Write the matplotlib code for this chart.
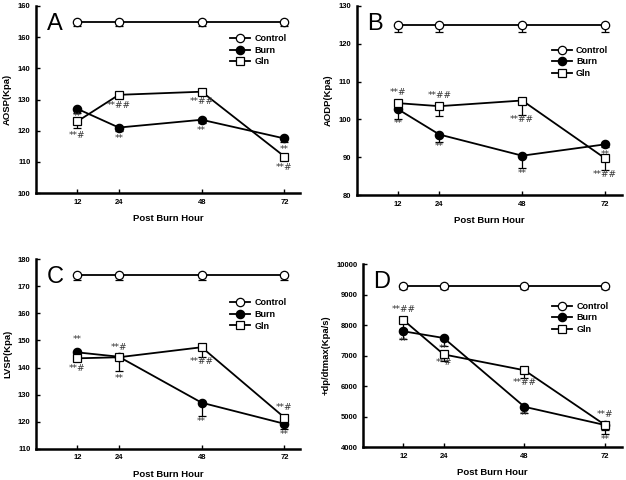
import matplotlib
matplotlib.use("Agg")
import matplotlib.pyplot as plt
from matplotlib.lines import Line2D

plt.rcParams['font.family'] = ['Liberation Sans', 'DejaVu Sans']

hours = [12, 24, 48, 72]
series_names = ["Control", "Burn", "Gln"]

# Panel A
a_control = [155, 155, 155, 155]
a_control_err = [1.3, 1.3, 1.3, 1.3]
a_burn = [127, 121, 123.5, 117.5]
a_burn_err = [1.2, 1.2, 1.2, 1.2]
a_gln = [123, 131.5, 132.5, 111.7]
a_gln_err = [2.0, 0.8, 0.8, 0.8]
a_yticks = [100, 110, 120, 130, 140, 150, 160]
a_yticklabels = ["100", "110", "120", "130", "140", "160", "160"]
a_notes = [(12, 124.4, "**"), (12, 118.6, "**#"), (24, 128.2, "**##"), (24, 117.6, "**"),
           (48, 129.2, "**##"), (48, 119.9, "**"), (72, 114.1, "**"), (72, 108.3, "**#")]

# Panel B
b_control = [125, 125, 125, 125]
b_control_err = [1.8, 1.8, 1.8, 1.8]
b_burn = [102.7, 96.0, 90.4, 93.4]
b_burn_err = [2.5, 2.0, 3.3, 0.8]
b_gln = [104.3, 103.5, 105.0, 89.7]
b_gln_err = [1.5, 2.7, 3.8, 3.0]
b_yticks = [80, 90, 100, 110, 120, 130]
b_notes = [(12, 107.1, "**#"), (12, 98.8, "**"), (24, 106.2, "**##"), (24, 92.8, "**"),
           (48, 100.0, "**##"), (48, 85.8, "**"), (72, 90.8, "**"), (72, 85.5, "**##")]

# Panel C
c_control = [174.3, 174.3, 174.3, 174.3]
c_control_err = [2.0, 2.0, 2.0, 2.0]
c_burn = [145.6, 144.0, 127.0, 119.2]
c_burn_err = [1.0, 1.0, 5.0, 1.8]
c_gln = [143.4, 143.8, 147.5, 121.5]
c_gln_err = [1.0, 5.0, 3.5, 1.5]
c_yticks = [110, 120, 130, 140, 150, 160, 170, 180]
c_notes = [(12, 150.2, "**"), (12, 139.7, "**#"), (24, 147.5, "**#"), (24, 136.0, "**"),
           (48, 142.2, "**##"), (48, 120.2, "**"), (72, 125.3, "**#"), (72, 115.4, "**")]

# Panel D
d_control = [9300, 9300, 9300, 9300]
d_control_err = [100, 100, 100, 100]
d_burn = [7800, 7580, 5320, 4720]
d_burn_err = [250, 250, 200, 150]
d_gln = [8170, 7040, 6520, 4720]
d_gln_err = [300, 200, 250, 300]
d_yticks = [4000, 5000, 6000, 7000, 8000, 9000, 10000]
d_notes = [(12, 8500, "**##"), (12, 7480, "**"), (24, 7240, "**"), (24, 6770, "**#"),
           (48, 6110, "**##"), (48, 5030, "**"), (72, 5070, "**#"), (72, 4260, "**")]

W, H = 626, 480
fig = plt.figure(figsize=(W / 100, H / 100), dpi=100)


def px_axes(left, top, right, bottom):
    return fig.add_axes([left / W, 1 - bottom / H, (right - left) / W, (bottom - top) / H])


panels = [
    dict(box=(36, 6, 300, 193), xmax=76.5, ylim=(100, 160), yticks=a_yticks, yticklabels=a_yticklabels,
         ylabel="AOSP(Kpa)", letter="A", data=(a_control, a_control_err, a_burn, a_burn_err, a_gln, a_gln_err),
         notes=a_notes, leg=(0.735, 0.85)),
    dict(box=(356.5, 6, 622, 195), xmax=76.9, ylim=(80, 130), yticks=b_yticks, yticklabels=None,
         ylabel="AODP(Kpa)", letter="B", data=(b_control, b_control_err, b_burn, b_burn_err, b_gln, b_gln_err),
         notes=b_notes, leg=(0.735, 0.79)),
    dict(box=(36, 259.3, 300, 448.7), xmax=76.5, ylim=(110, 180), yticks=c_yticks, yticklabels=None,
         ylabel="LVSP(Kpa)", letter="C", data=(c_control, c_control_err, c_burn, c_burn_err, c_gln, c_gln_err),
         notes=c_notes, leg=(0.735, 0.795)),
    dict(box=(363, 264.3, 622, 447), xmax=77.0, ylim=(4000, 10000), yticks=d_yticks, yticklabels=None,
         ylabel="+dp/dtmax(Kpa/s)", letter="D", data=(d_control, d_control_err, d_burn, d_burn_err, d_gln, d_gln_err),
         notes=d_notes, leg=(0.73, 0.795)),
]

styles = [dict(marker='o', mfc='white'), dict(marker='o', mfc='black'), dict(marker='s', mfc='white')]

for p in panels:
    ax = px_axes(*p['box'])
    ctrl, ctrl_e, burn, burn_e, gln, gln_e = p['data']
    handles = []
    for (vals, errs), st, name in zip([(ctrl, ctrl_e), (burn, burn_e), (gln, gln_e)], styles, series_names):
        ax.errorbar(hours, vals, yerr=[errs, [0] * len(errs)], fmt='none', ecolor='black',
                    elinewidth=0.9, capsize=2.6, capthick=0.9, zorder=2)
        ax.plot(hours, vals, color='black', lw=1.3, marker=st['marker'], mfc=st['mfc'], mec='black',
                mew=0.9, ms=6 if st['marker'] == 'o' else 5.6, zorder=3, clip_on=False)
        handles.append(Line2D([], [], color='black', lw=1.3, marker=st['marker'], mfc=st['mfc'],
                              mec='black', mew=0.9, ms=6 if st['marker'] == 'o' else 5.6))
    for (hx, hy, t) in p['notes']:
        ax.text(hx, hy, t, ha='center', va='center', fontsize=6.5, color='#333333',
                family=['DejaVu Sans'])
    ax.set_xlim(0, p['xmax'])
    ax.set_ylim(*p['ylim'])
    ax.set_xticks(hours)
    ax.set_xticklabels([str(h) for h in hours])
    ax.set_yticks(p['yticks'])
    if p['yticklabels'] is not None:
        ax.set_yticklabels(p['yticklabels'])
    for s in ['top', 'right']:
        ax.spines[s].set_visible(False)
    for s in ['left', 'bottom']:
        ax.spines[s].set_linewidth(1.8)
    ax.tick_params(direction='in', length=3, width=1, labelsize=5.5, pad=4)
    for lab in ax.get_xticklabels() + ax.get_yticklabels():
        lab.set_fontweight('bold')
    ax.set_xlabel("Post Burn Hour", fontsize=6.8, fontweight='bold', labelpad=6)
    ax.set_ylabel(p['ylabel'], fontsize=6.8, fontweight='bold', labelpad=4)
    ax.text(0.04, 0.965, p['letter'], transform=ax.transAxes, fontsize=17, va='top', ha='left')
    ax.legend(handles, series_names, frameon=False, loc='upper left', bbox_to_anchor=p['leg'],
              handlelength=2.2, handletextpad=0.5, labelspacing=0.3, borderpad=0, borderaxespad=0,
              prop=dict(size=6.5, weight='bold'))

fig.savefig("out.png", dpi=100)
